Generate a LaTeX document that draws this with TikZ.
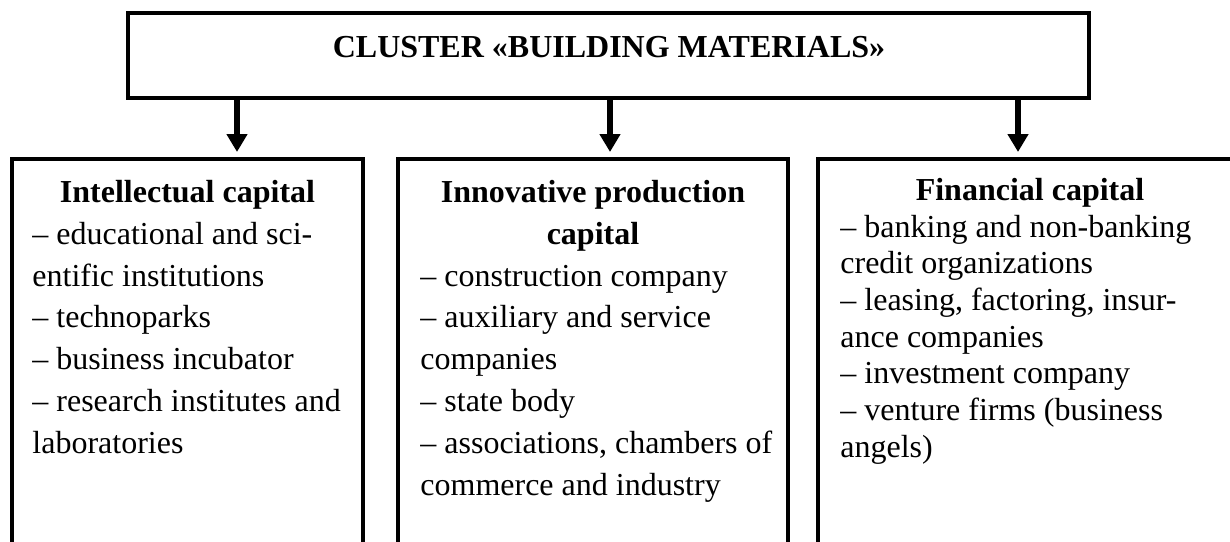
\documentclass[tikz,border=0pt]{standalone}
\usepackage{fontspec}
\setmainfont{Liberation Serif}
\usetikzlibrary{arrows.meta,fit}
\newcommand{\tstrut}{\rule{0pt}{12pt}}
\begin{document}
\begin{tikzpicture}[x=0.5pt,y=-0.5pt,
  box/.style={draw,line width=2pt,inner sep=0pt,rectangle},
  arr/.style={line width=3pt,-{Triangle[length=9pt,width=10pt]},shorten >=2.5pt},
  txtA/.style={inner sep=0pt,font=\fontsize{16pt}{20.9pt}\selectfont},
  txtB/.style={inner sep=0pt,font=\fontsize{16pt}{18.35pt}\selectfont},
  head/.style={inner sep=0pt,font=\fontsize{16pt}{20.9pt}\selectfont\bfseries}
]
\useasboundingbox (0,0) rectangle (1230,541);
\clip (0,0) rectangle (1230,541);
\fill[white] (0,0) rectangle (1230,541);

% boxes
\node[box, fit={(128,13) (1089,98)}] (title) {};
\node[box, fit={(12,159) (363,600)}] (b1) {};
\node[box, fit={(398,159) (788,600)}] (b2) {};
\node[box, fit={(818,159) (1242,600)}] (b3) {};

% title text
\node[head, anchor=base] (ttl) at (609,57) {CLUSTER «BUILDING MATERIALS»};

% arrows
\coordinate (a1) at (237,0);
\coordinate (a2) at (610,0);
\coordinate (a3) at (1018,0);
\draw[arr] (title.south -| a1) -- (b1.north -| a1);
\draw[arr] (title.south -| a2) -- (b2.north -| a2);
\draw[arr] (title.south -| a3) -- (b3.north -| a3);

% box 1
\node[head, anchor=base] (h1) at (187.5,202) {Intellectual capital};
\node[txtA, anchor=north west, align=left] (t1) at (32,219.8)
  {\tstrut– educational and sci-\\entific institutions\\– technoparks\\– business incubator\\– research institutes and\\laboratories};

% box 2
\node[head, anchor=north, align=center] (h2) at (593,178)
  {\tstrut Innovative production\\capital};
\node[txtA, anchor=north west, align=left] (t2) at (420,261.6)
  {\tstrut– construction company\\– auxiliary and service\\companies\\– state body\\– associations, chambers of\\commerce and industry};

% box 3
\node[head, anchor=base] (h3) at (1030,200) {Financial capital};
\node[txtB, anchor=north west, align=left] (t3) at (840,212.7)
  {\tstrut– banking and non-banking\\credit organizations\\– leasing, factoring, insur-\\ance companies\\– investment company\\– venture firms (business\\angels)};
\end{tikzpicture}
\end{document}
